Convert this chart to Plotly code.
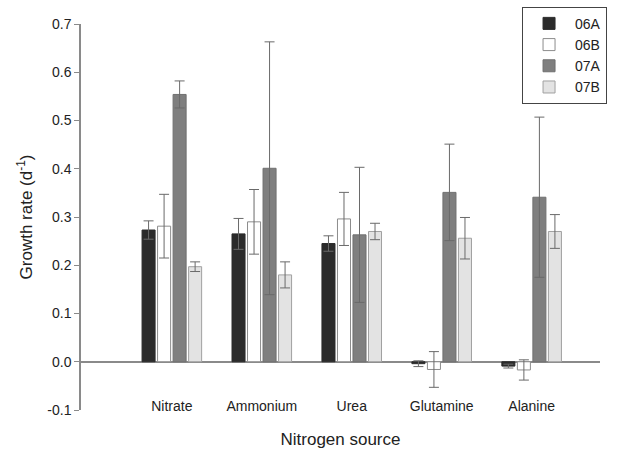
import plotly.graph_objects as go

categories = ["Nitrate", "Ammonium", "Urea", "Glutamine", "Alanine"]
series_names = ["06A", "06B", "07A", "07B"]
vals_06A = [0.273, 0.265, 0.245, -0.004, -0.009]
err_06A = [0.019, 0.032, 0.016, 0.006, 0.004]
vals_06B = [0.281, 0.290, 0.296, -0.016, -0.017]
err_06B = [0.066, 0.067, 0.055, 0.037, 0.021]
vals_07A = [0.554, 0.401, 0.263, 0.351, 0.341]
err_07A = [0.028, 0.262, 0.140, 0.100, 0.166]
vals_07B = [0.197, 0.180, 0.270, 0.256, 0.270]
err_07B = [0.010, 0.027, 0.017, 0.043, 0.035]
y_tick_vals = [-0.1, 0.0, 0.1, 0.2, 0.3, 0.4, 0.5, 0.6, 0.7]
y_tick_text = ["-0.1", "0.0", "0.1", "0.2", "0.3", "0.4", "0.5", "0.6", "0.7"]

values = [vals_06A, vals_06B, vals_07A, vals_07B]
errors = [err_06A, err_06B, err_07A, err_07B]
fills = ["#2b2b2b", "#ffffff", "#7f7f7f", "#e3e3e3"]
lines = ["#2b2b2b", "#8c8c8c", "#707070", "#a0a0a0"]

fig = go.Figure()
for name, v, e, fc, lc in zip(series_names, values, errors, fills, lines):
    fig.add_trace(go.Bar(
        x=categories, y=v, name=name,
        marker=dict(color=fc, line=dict(color=lc, width=1)),
        error_y=dict(type="data", array=e, visible=True, color="#6a6a6a",
                     thickness=1, width=5),
    ))

font = "Liberation Sans, Arial, sans-serif"
fig.update_layout(
    width=620, height=452,
    margin=dict(l=81, r=20, t=24, b=42, autoexpand=False),
    paper_bgcolor="white", plot_bgcolor="white",
    barmode="group", bargap=0.31, bargroupgap=0.16,
    font=dict(family=font, size=14, color="#222"),
    showlegend=True,
    legend=dict(xref="container", yref="container",
                x=0.842, y=0.985, xanchor="left", yanchor="top",
                bordercolor="#444", borderwidth=1, bgcolor="white",
                font=dict(size=14, color="#222"), tracegroupgap=0,
                itemwidth=42),
    xaxis=dict(range=[-1.01, 4.76], showline=False, ticks="",
               showgrid=False, zeroline=False, automargin=False,
               tickfont=dict(size=14, color="#222"),
               ticklabelstandoff=-14,
               title=dict(text="Nitrogen source", font=dict(size=17), standoff=20)),
    yaxis=dict(range=[-0.1, 0.7], tickmode="array",
               tickvals=y_tick_vals, ticktext=y_tick_text,
               showline=True, linecolor="#8a8a8a", linewidth=1.5,
               ticks="outside", ticklen=5, tickcolor="#8a8a8a",
               showgrid=False, zeroline=True, zerolinecolor="#8a8a8a",
               zerolinewidth=1.5, automargin=False,
               tickfont=dict(size=14, color="#222"),
               title=dict(text="Growth rate (d<sup>-1</sup>)", font=dict(size=17), standoff=10)),
)

fig.write_html("out.html", config={"displayModeBar": False},
               post_script="document.body.style.margin='0';")
